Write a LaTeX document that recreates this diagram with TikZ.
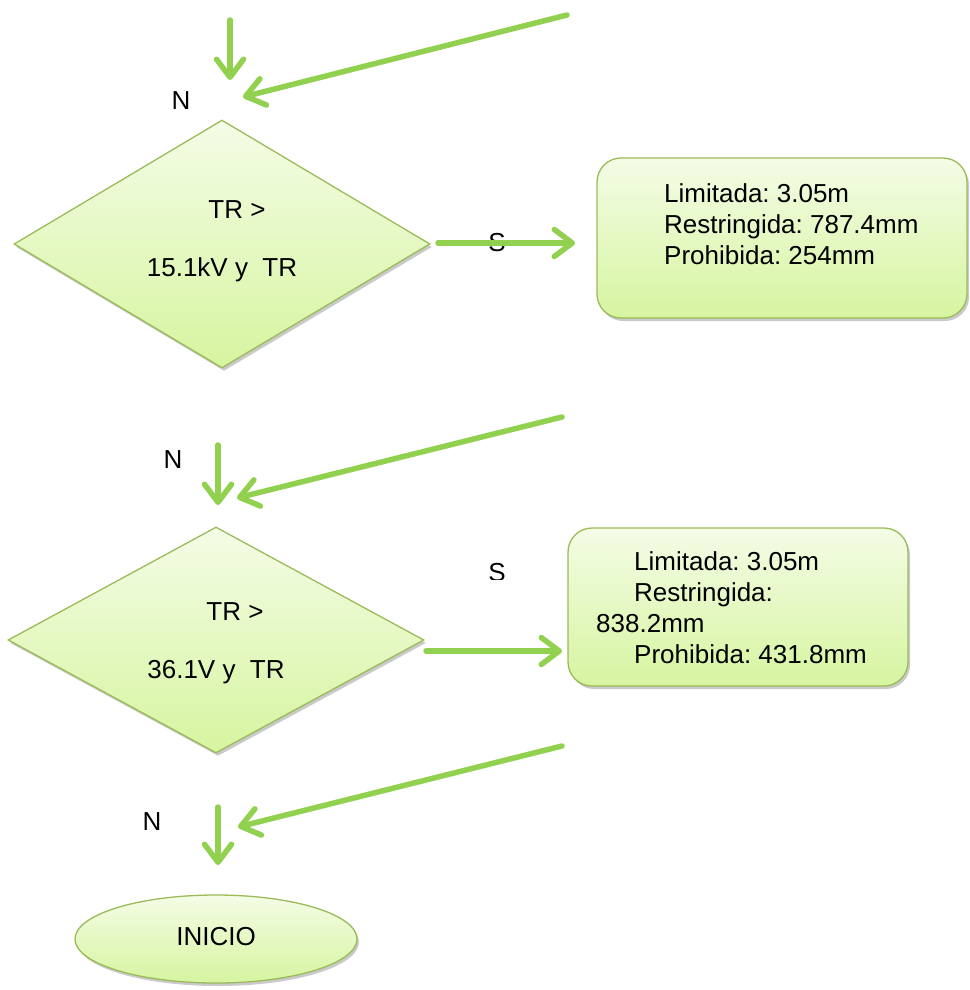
\documentclass[tikz,border=0pt]{standalone}
\usepackage{fontspec}
\setmainfont{Liberation Sans}
\usetikzlibrary{shapes.geometric,arrows.meta,shadows}
\definecolor{arrowgreen}{HTML}{92D050}
\definecolor{shapeborder}{HTML}{9BBB59}
\definecolor{filltop}{HTML}{F4FCE6}
\definecolor{fillbot}{HTML}{D6F5A0}
\tikzset{
  flow/.style={draw=arrowgreen, line width=5.5pt, line cap=round,
    -{Straight Barb[length=18pt,width=27pt,round]}},
  shapebox/.style={draw=shapeborder, line width=1.3pt, top color=filltop, bottom color=fillbot,
    drop shadow={shadow xshift=2pt, shadow yshift=-3pt, opacity=0.35, fill=black!60}},
  lbl/.style={font=\fontsize{26}{31}\selectfont\frenchspacing, inner sep=0pt, text=black},
}
\begin{document}
\begin{tikzpicture}[x=1pt,y=-1pt]
\useasboundingbox (0,0) rectangle (969,990);

% shapes
\node[shapebox, diamond, minimum width=416pt, minimum height=248pt, inner sep=0pt, aspect=1.677] (d1) at (222,244) {};
\node[shapebox, rectangle, rounded corners=24pt, minimum width=370pt, minimum height=160pt, inner sep=0pt] (b1) at (782,238) {};
\node[shapebox, diamond, minimum width=416pt, minimum height=226pt, inner sep=0pt, aspect=1.84] (d2) at (216,640) {};
\node[shapebox, rectangle, rounded corners=24pt, minimum width=340pt, minimum height=158pt, inner sep=0pt] (b2) at (738,607) {};
\node[shapebox, ellipse, minimum width=282pt, minimum height=88pt, inner sep=0pt] (e1) at (216,939) {};

% texts
\node[lbl] (n1) at (181,101) {N};
\node[lbl] (t1a) at (237,210) {TR >};
\node[lbl] (t1b) at (222,270) {15.1kV y\ \ TR};
\node[lbl, anchor=west, align=left] (t1box) at (664,224) {Limitada: 3.05m\\Restringida: 787.4mm\\Prohibida: 254mm};
\node[lbl] (n2) at (173,460) {N};
\node[lbl] (t2a) at (235,612) {TR >};
\node[lbl] (t2b) at (216,672) {36.1V y\ \ TR};
\node[lbl, anchor=west, align=left] (t2box) at (596,608) {\hspace*{38pt}Limitada: 3.05m\\\hspace*{38pt}Restringida:\\838.2mm\\\hspace*{38pt}Prohibida: 431.8mm};
\node[lbl] (n3) at (152,822) {N};
\node[lbl] (inicio) at (216,937) {INICIO};

\begin{scope}
  \clip (480,225) rectangle (515,251);
  \node[lbl] (s1) at (497,243) {S};
\end{scope}
\begin{scope}
  \clip (480,555) rectangle (515,579);
  \node[lbl] (s2) at (497,573) {S};
\end{scope}

% connector end points
\coordinate (v1s) at (230,20);   \coordinate (v1e) at (230,80);
\coordinate (g1s) at (567,15);   \coordinate (g1e) at (243,97);
\coordinate (h1s) at (438,243);  \coordinate (h1e) at (575,243);
\coordinate (g2s) at (562,417);  \coordinate (g2e) at (237,498);
\coordinate (v2s) at (218,445);  \coordinate (v2e) at (218,505);
\coordinate (h2s) at (426,651);  \coordinate (h2e) at (562,651);
\coordinate (g3s) at (562,746);  \coordinate (g3e) at (238,827);
\coordinate (v3s) at (218,807);  \coordinate (v3e) at (218,865);

\draw[flow] (v1s) -- (v1e);
\draw[flow] (g1s) -- (g1e);
\draw[flow] (h1s) -- (h1e);
\draw[flow] (g2s) -- (g2e);
\draw[flow] (v2s) -- (v2e);
\draw[flow] (h2s) -- (h2e);
\draw[flow] (g3s) -- (g3e);
\draw[flow] (v3s) -- (v3e);
\end{tikzpicture}
\end{document}
